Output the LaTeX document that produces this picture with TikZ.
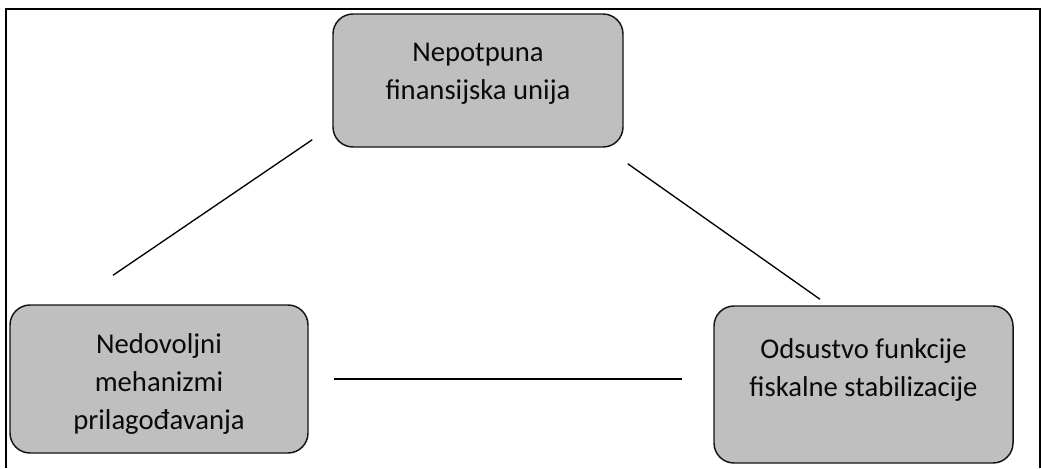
\documentclass[tikz,border=0pt]{standalone}
\usepackage{fontspec}
\setmainfont{Carlito}
\usetikzlibrary{calc}
\definecolor{boxgray}{RGB}{191, 191, 191}
\definecolor{boxborder}{RGB}{20, 20, 20}
\definecolor{boxtext}{RGB}{10, 10, 10}

\begin{document}
\begin{tikzpicture}[
    x=0.75pt, y=-0.75pt,
    box/.style={
        rectangle, rounded corners=15pt,
        draw=boxborder, fill=boxgray, line width=1.1pt,
        inner sep=0pt
    },
    boxlabel/.style={
        anchor=north, inner sep=0pt, align=center,
        font=\fontsize{21.5}{28.5}\selectfont, text=boxtext
    },
    link/.style={
        line width=1pt, draw=black
    },
    frame/.style={
        line width=1.5pt, draw=black
    }
]
\useasboundingbox (0,0) rectangle (1041,468);

% Okvir slike (otvoren na dnu)
\draw[frame] (6,468) -- (6,8.5) -- (1039.5,8.5) -- (1039.5,468);

% 1. Nepotpuna finansijska unija
\node[box, minimum width=290*0.75pt, minimum height=133*0.75pt] (unija) at (478, 80.5) {};
\node[boxlabel] (unija-txt) at ($(unija.north)+(0,30)$) {
    Nepotpuna\\
    finansijska unija
};

% 2. Nedovoljni mehanizmi prilagodjavanja
\node[box, minimum width=298*0.75pt, minimum height=148*0.75pt] (mehanizmi) at (159, 379) {};
\node[boxlabel] (mehanizmi-txt) at ($(mehanizmi.north)+(0,29)$) {
    Nedovoljni\\
    mehanizmi\\
    prilagođavanja
};

% 3. Odsustvo funkcije fiskalne stabilizacije
\node[box, minimum width=299*0.75pt, minimum height=157*0.75pt] (fiskal) at (863.5, 384.5) {};
\node[boxlabel] (fiskal-txt) at ($(fiskal.north)+(0,33)$) {
    Odsustvo funkcije\\
    fiskalne stabilizacije
};

% Slobodni krajevi veza
\coordinate (a1) at ($(unija.south west)+(-20,-8)$);
\coordinate (a2) at ($(mehanizmi.north)+(-46,-29)$);
\coordinate (b1) at ($(unija.south east)+(4,16)$);
\coordinate (b2) at ($(fiskal.north)+(-43.5,-6)$);
\coordinate (c1) at ($(mehanizmi.east)+(25,0)$);
\coordinate (c2) at ($(fiskal.west |- mehanizmi.east)+(-31,0)$);

% ================= Veze =================
\draw[link] (a1) -- (a2);
\draw[link] (b1) -- (b2);
\draw[link, line width=1.6pt] (c1) -- (c2);

\end{tikzpicture}
\end{document}
